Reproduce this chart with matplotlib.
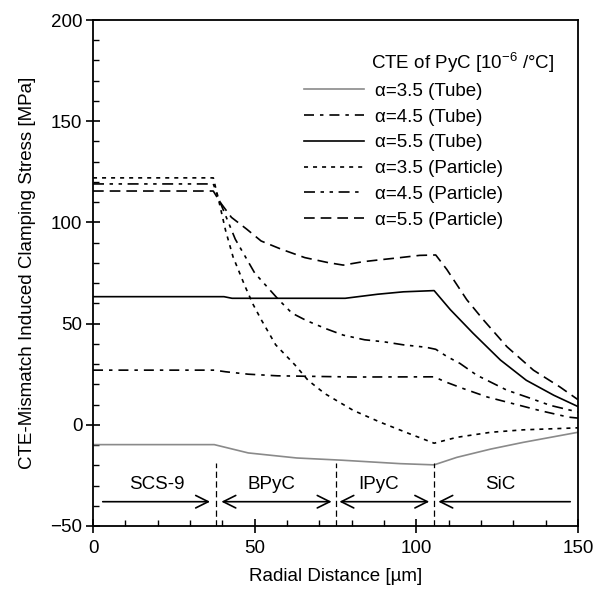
import matplotlib
matplotlib.use("Agg")
import matplotlib.pyplot as plt

# radial position [um] and clamping stress [MPa]
tube35_x = [0, 37.5, 48, 63, 77, 95, 105.5, 112.5, 123, 133, 150]
tube35_y = [-9.8, -9.8, -13.9, -16.4, -17.5, -19.2, -19.8, -16.1, -12.0, -8.7, -3.7]

tube45_x = [0, 37.5, 41, 48, 57, 81, 105.5, 109, 114.5, 122, 130, 138, 147, 150]
tube45_y = [27.0, 27.0, 26.2, 25.0, 24.2, 23.6, 23.7, 21.2, 17.9, 13.7, 10.4, 7.1, 3.8, 3.3]

tube55_x = [0, 40.5, 43, 78, 88, 96, 105.5, 110.5, 117.5, 126, 134, 142.5, 150]
tube55_y = [63.3, 63.3, 62.5, 62.5, 64.5, 65.7, 66.3, 56.9, 45.3, 32.0, 22.0, 14.6, 9.0]

par35_x = [0, 37.2, 39, 41, 43.3, 47, 49.5, 52, 56.5, 62.5, 66.5, 71.7, 77, 80.5,
           88.8, 98, 105.5, 112.5, 123, 133, 150]
par35_y = [122.0, 122.0, 110.0, 96.0, 83.0, 68.5, 59.5, 52.0, 39.5, 29.5, 22.0, 15.4,
           10.4, 7.1, 1.3, -4.5, -9.1, -6.2, -3.7, -2.5, -1.5]

par45_x = [0, 37.2, 39.3, 44, 50, 57.3, 61.5, 66, 69, 72, 77.4, 84, 90, 96, 103, 106,
           109.4, 113.5, 118.7, 128, 134.2, 141.4, 150]
par45_y = [119.0, 119.0, 110.0, 91.7, 75.0, 62.0, 55.2, 51.5, 49.5, 47.5, 44.3, 42.0,
           41.0, 39.5, 38.3, 37.3, 33.8, 30.3, 24.5, 17.1, 13.7, 9.6, 6.3]

par55_x = [0, 37.2, 39.3, 42.8, 47.5, 52, 58.3, 65.5, 72.8, 77.4, 83.6, 89.8, 95, 101,
           106, 109.4, 112.5, 115.6, 120.7, 128, 136.2, 144.4, 150]
par55_y = [115.5, 115.5, 110.0, 102.5, 96.7, 90.8, 86.7, 82.6, 80.1, 78.9, 80.6, 81.7,
           82.6, 83.7, 83.9, 76.8, 69.3, 61.8, 51.9, 38.6, 27.0, 18.7, 12.4]

labels = ["α=3.5 (Tube)", "α=4.5 (Tube)", "α=5.5 (Tube)",
          "α=3.5 (Particle)", "α=4.5 (Particle)", "α=5.5 (Particle)"]

# layer interfaces and names
interfaces = [38, 75.3, 105.5]
layer_names = ["SCS-9", "BPyC", "IPyC", "SiC"]
layer_label_x = [19.8, 55.2, 88.2, 126.1]
arrow_spans = [(3, 36.2, "->"), (39.7, 73.8, "<->"), (76.2, 104, "<->"), (106.8, 147.6, "<-")]

plt.rcParams["font.family"] = ["Liberation Sans", "DejaVu Sans"]
plt.rcParams["mathtext.fontset"] = "custom"
plt.rcParams["mathtext.rm"] = "Liberation Sans"
plt.rcParams["lines.scale_dashes"] = False

fs = 13.5
fig = plt.figure(figsize=(6.06, 5.90), dpi=100)
ax = fig.add_axes([0.1535, 0.1085, 0.8003, 0.8576])

lw = 1.2
styles = [
    dict(color="#8a8a8a", linestyle="-"),
    dict(color="black", linestyle=(0, (7.2, 4.3, 2.5, 4.3))),
    dict(color="black", linestyle="-"),
    dict(color="black", linestyle=(0, (2.9, 3.6))),
    dict(color="black", linestyle=(0, (7.9, 4.0, 2.5, 4.0, 2.5, 4.0))),
    dict(color="black", linestyle=(0, (7.7, 4.3))),
]
series = [(tube35_x, tube35_y), (tube45_x, tube45_y), (tube55_x, tube55_y),
          (par35_x, par35_y), (par45_x, par45_y), (par55_x, par55_y)]
handles = []
for (xs, ys), st, lab in zip(series, styles, labels):
    ln, = ax.plot(xs, ys, lw=lw, label=lab, **st)
    handles.append(ln)

for xi in interfaces:
    ax.plot([xi, xi], [-50, -19], color="black", lw=0.9, linestyle=(0, (4.5, 2.5)))

for name, lx in zip(layer_names, layer_label_x):
    ax.text(lx, -29.4, name, ha="center", va="center", fontsize=fs)

for x0, x1, style in arrow_spans:
    ax.annotate("", xy=(x1, -38), xytext=(x0, -38),
                arrowprops=dict(arrowstyle=style + ",head_length=0.9,head_width=0.45",
                                shrinkA=0, shrinkB=0, lw=1.2, color="black"))

ax.set_xlim(0, 150)
ax.set_ylim(-50, 200)
ax.set_xticks([0, 50, 100, 150])
ax.set_yticks([-50, 0, 50, 100, 150, 200])
ax.set_xticks(range(0, 151, 10), minor=True)
ax.set_yticks(range(-50, 201, 10), minor=True)
ax.tick_params(which="major", direction="inout", length=9.5, width=1.2,
               labelsize=fs, top=False, right=False)
ax.tick_params(which="minor", direction="in", length=4.3, width=1.0,
               top=False, right=False)
ax.tick_params(axis="x", which="major", pad=5)
ax.tick_params(axis="y", which="major", pad=3)
for sp in ax.spines.values():
    sp.set_linewidth(1.3)

ax.set_xlabel("Radial Distance [µm]", fontsize=fs, labelpad=8)
ax.set_ylabel("CTE-Mismatch Induced Clamping Stress [MPa]", fontsize=fs, labelpad=10)

ax.text(0.573, 0.915, "CTE of PyC [10$^{\\mathrm{-6}}$ /°C]", transform=ax.transAxes,
        ha="left", va="center", fontsize=fs)
ax.legend(handles=handles, loc="upper left", bbox_to_anchor=(0.435, 0.876),
          frameon=False, fontsize=fs, handlelength=3.2, handletextpad=0.59,
          labelspacing=0.46, borderpad=0, borderaxespad=0)

fig.savefig("out.png", dpi=100)
